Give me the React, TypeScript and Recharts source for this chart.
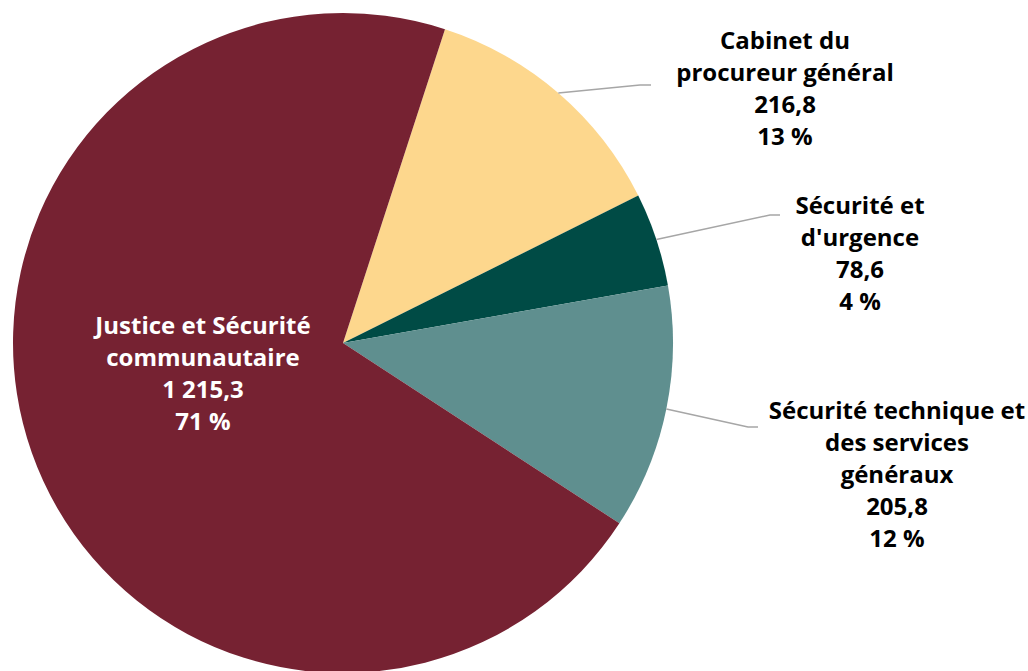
import { PieChart, Pie, Cell } from "recharts";

const categories = [
  "Cabinet du procureur général",
  "Sécurité et d'urgence",
  "Sécurité technique et des services généraux",
  "Justice et Sécurité communautaire",
];
const amounts = [216.8, 78.6, 205.8, 1215.3];
const percentLabels = ["13 %", "4 %", "12 %", "71 %"];
const colors = ["#FDD78D", "#004B45", "#5F8F8F", "#762232"];

// label text broken over lines like the original
const labelLines = [
  ["Cabinet du", "procureur général"],
  ["Sécurité et", "d'urgence"],
  ["Sécurité technique et", "des services", "généraux"],
  ["Justice et Sécurité", "communautaire"],
];

// where each label sits, relative to the pie centre; elbow = bend of leader line
const labelLayout = [
  { dx: 442, dy: -304, elbow: [297, -258], tail: 11 },
  { dx: 517, dy: -139, elbow: [427, -128], tail: 10 },
  { dx: 554, dy: 66, elbow: [405, 84], tail: 10 },
  { dx: -140, dy: -19, elbow: null, tail: 0 },
];

const CX = 343;
const CY = 343;
const RADIUS = 330;
const LINE_H = 32;
const RAD = Math.PI / 180;

const data = categories.map((name, i) => ({
  name,
  value: amounts[i],
  pct: percentLabels[i],
}));

function formatFr(v: number): string {
  const [int, dec] = v.toFixed(1).split(".");
  const grouped = int.replace(/\B(?=(\d{3})+(?!\d))/g, " ");
  return grouped + "," + dec;
}

function renderLabel(props: any) {
  const { index, midAngle } = props;
  const cx = props.cx ?? CX;
  const cy = props.cy ?? CY;
  const r = props.outerRadius ?? RADIUS;
  const lay = labelLayout[index];
  const lines = [...labelLines[index], formatFr(amounts[index]), percentLabels[index]];
  const x = cx + lay.dx;
  const y0 = cy + lay.dy;
  const isInside = lay.elbow === null;
  let leader = null;
  if (lay.elbow) {
    const sx = cx + r * Math.cos(-midAngle * RAD);
    const sy = cy + r * Math.sin(-midAngle * RAD);
    const ex = cx + lay.elbow[0];
    const ey = cy + lay.elbow[1];
    leader = (
      <polyline
        points={`${sx},${sy} ${ex},${ey} ${ex + lay.tail},${ey}`}
        fill="none"
        stroke="#A6A6A6"
        strokeWidth={1.5}
      />
    );
  }
  return (
    <g key={`lbl-${index}`}>
      {leader}
      <text
        x={x}
        y={y0}
        textAnchor="middle"
        dominantBaseline="central"
        fill={isInside ? "#FFFFFF" : "#000000"}
        fontFamily="'Open Sans', sans-serif"
        fontWeight={700}
        fontSize={24}
      >
        {lines.map((t, i) => (
          <tspan key={i} x={x} y={y0 + i * LINE_H}>
            {t}
          </tspan>
        ))}
      </text>
    </g>
  );
}

export default function App() {
  return (
    <div style={{ position: "fixed", left: 0, top: 0, width: 1028, height: 671, background: "#fff", overflow: "hidden" }}>
      <PieChart width={1028} height={671} margin={{ top: 0, right: 0, bottom: 0, left: 0 }}>
        <Pie
          data={data}
          dataKey="value"
          nameKey="name"
          cx={CX}
          cy={CY}
          outerRadius={RADIUS}
          startAngle={72}
          endAngle={-288}
          stroke="none"
          label={renderLabel}
          labelLine={false}
          isAnimationActive={false}
        >
          {data.map((d, i) => (
            <Cell key={d.name} fill={colors[i]} />
          ))}
        </Pie>
      </PieChart>
    </div>
  );
}
